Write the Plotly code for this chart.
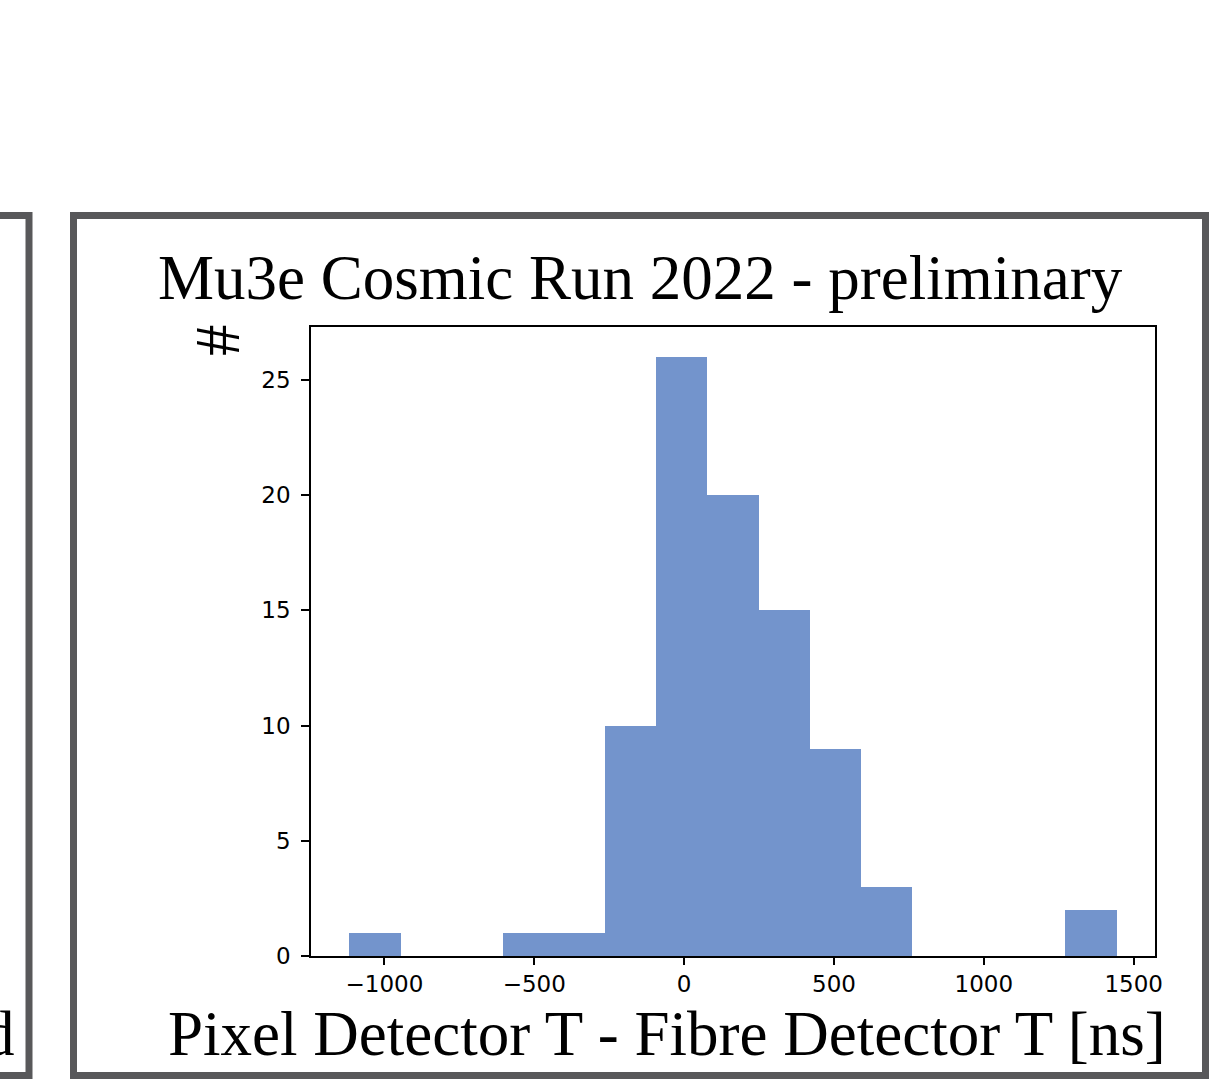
import plotly.graph_objects as go

# Histogram data
bin_edges = [-1117.0, -946.3, -775.7, -605.0, -434.3, -263.7, -93.0, 77.7,
             248.3, 419.0, 589.7, 760.3, 931.0, 1101.7, 1272.3, 1443.0]
counts = [1, 0, 0, 1, 1, 10, 26, 20, 15, 9, 3, 0, 0, 0, 2]
x_ticks = [-1000, -500, 0, 500, 1000, 1500]
y_ticks = [0, 5, 10, 15, 20, 25]

title_text = "Mu3e Cosmic Run 2022 - preliminary"
xlabel_text = "Pixel Detector T - Fibre Detector T [ns]"
ylabel_text = "#"

W, H = 1209, 1079

centers = [(bin_edges[i] + bin_edges[i + 1]) / 2 for i in range(len(counts))]
widths = [bin_edges[i + 1] - bin_edges[i] for i in range(len(counts))]

fig = go.Figure()
fig.add_trace(go.Bar(x=centers, y=counts, width=widths,
                     marker=dict(color="#7394cc", line=dict(width=0)),
                     showlegend=False, hoverinfo="skip"))

def px_x(p):
    return p / W

def px_y(p):
    return 1 - p / H

serif = "Liberation Serif, Times New Roman, serif"
tickfont = dict(family="DejaVu Sans", size=23, color="black")

fig.update_layout(
    width=W, height=H,
    margin=dict(l=0, r=0, t=0, b=0, pad=0, autoexpand=False),
    paper_bgcolor="white", plot_bgcolor="white",
    bargap=0,
    xaxis=dict(domain=[px_x(311), px_x(1155)], range=[-1245, 1571],
               tickvals=x_ticks, ticks="outside", ticklen=7, tickwidth=1.5,
               tickcolor="black", showline=True, linecolor="black", linewidth=1.5,
               mirror=True, showgrid=False, zeroline=False, tickfont=tickfont,
               automargin=False),
    yaxis=dict(domain=[px_y(956), px_y(327)], range=[0, 27.3],
               tickvals=y_ticks, ticks="outside", ticklen=8, tickwidth=1.5,
               tickcolor="black", showline=True, linecolor="black", linewidth=1.5,
               mirror=True, showgrid=False, zeroline=False, tickfont=tickfont,
               ticklabelstandoff=6, automargin=False),
    shapes=[
        dict(type="rect", xref="paper", yref="paper",
             x0=px_x(73.5), x1=px_x(1205.5), y0=px_y(1075.5), y1=px_y(215.5),
             line=dict(color="#58585a", width=7), layer="below"),
        dict(type="rect", xref="paper", yref="paper",
             x0=px_x(-100), x1=px_x(29), y0=px_y(1075.5), y1=px_y(215.5),
             line=dict(color="#58585a", width=7), layer="below"),
    ],
    annotations=[
        dict(text=title_text, xref="paper", yref="paper", x=px_x(640), y=px_y(278),
             xanchor="center", yanchor="middle", showarrow=False,
             font=dict(family=serif, size=63, color="black")),
        dict(text=xlabel_text, xref="paper", yref="paper", x=px_x(667), y=px_y(1034),
             xanchor="center", yanchor="middle", showarrow=False,
             font=dict(family=serif, size=63, color="black")),
        dict(text=ylabel_text, xref="paper", yref="paper", x=px_x(218), y=px_y(340),
             xanchor="center", yanchor="middle", showarrow=False, textangle=-90,
             font=dict(family=serif, size=63, color="black")),
        dict(text="d", xref="paper", yref="paper", x=px_x(17), y=px_y(1034),
             xanchor="right", yanchor="middle", showarrow=False,
             font=dict(family=serif, size=63, color="black")),
    ],
)

post = (
    "var s=document.documentElement.style;s.margin='0';s.padding='0';"
    "s.height='1079px';s.overflow='hidden';"
    "var b=document.body.style;b.margin='0';b.padding='0';"
    "b.height='1079px';b.overflow='hidden';"
)
fig.write_html("out.html", config={"displayModeBar": False}, post_script=post)
